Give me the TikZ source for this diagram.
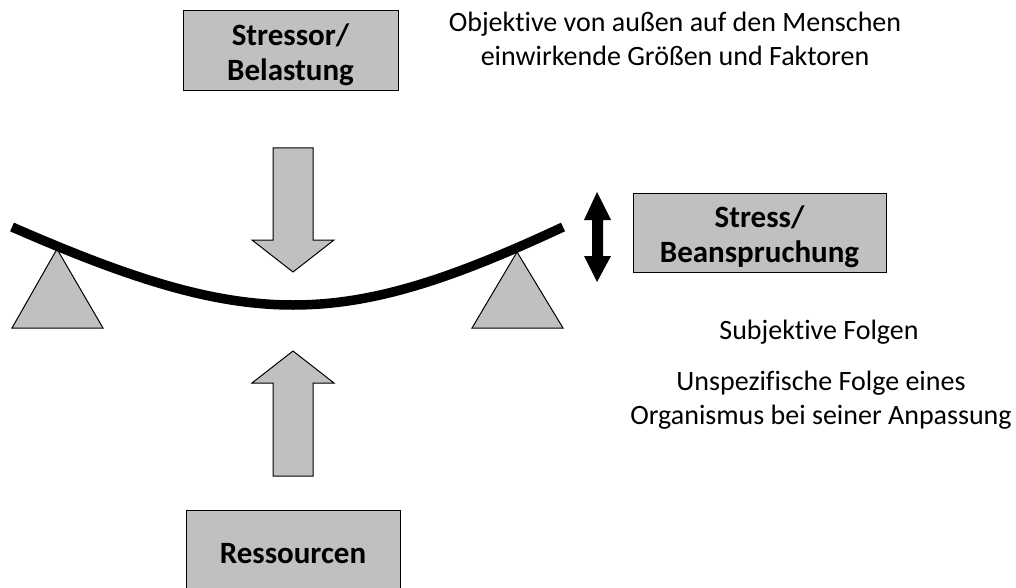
\documentclass[tikz,border=0pt]{standalone}
\usepackage{fontspec}
\setmainfont[Ligatures={NoCommon}]{Carlito}
\definecolor{boxgray}{RGB}{192,192,192}
\begin{document}
\begin{tikzpicture}[x=1pt,y=-1pt,
  graybox/.style={draw=black, line width=1pt, fill=boxgray, inner sep=0pt},
  boxtext/.style={align=center, inner sep=0pt, font=\fontsize{31}{35}\selectfont\bfseries},
  txt/.style={align=center, inner sep=0pt, font=\fontsize{28}{34}\selectfont},
  blockarrow/.style={draw=black, line width=1pt, fill=boxgray, line join=miter},
  support/.style={draw=black, line width=1pt, fill=boxgray},
  beam/.style={draw=black, line width=9.5pt},
  dblarrow/.style={fill=black}]
\useasboundingbox (0,0) rectangle (1016,588);

% boxes
\node[graybox, minimum width=215pt, minimum height=80pt] (stressor) at (290.5,51) {};
\node[boxtext] (stressorlbl) at ([yshift=-4pt]stressor.center) {Stressor/\\Belastung};
\node[graybox, minimum width=253pt, minimum height=79pt] (stress) at (759.5,232.5) {};
\node[boxtext] (stresslbl) at ([yshift=-4pt]stress.center) {Stress/\\Beanspruchung};
\node[graybox, minimum width=214pt, minimum height=86pt] (ress) at (293,553) {};
\node[boxtext] (resslbl) at ([yshift=-1pt]ress.center) {Ressourcen};

% texts
\node[txt] (obj) at (675,39) {Objektive von außen auf den Menschen\\einwirkende Größen und Faktoren};
\node[txt] (subj) at (819,332) {Subjektive Folgen};
\node[txt] (unsp) at (821,400) {Unspezifische Folge eines\\Organismus bei seiner Anpassung};

% block arrows
\draw[blockarrow] (273,148) -- (313,148) -- (313,240) -- (334,240) -- (293,272) -- (252,240) -- (273,240) -- cycle;
\draw[blockarrow] (273,476) -- (313,476) -- (313,383) -- (334,383) -- (293,351) -- (252,383) -- (273,383) -- cycle;

% supports
\draw[support] (57,249) -- (103,328) -- (12,328) -- cycle;
\draw[support] (517,252) -- (563,328) -- (472,328) -- cycle;

% beam
\draw[beam] (12,227) .. controls (250,331) and (340,331) .. (563,227);

% double arrow
\fill[dblarrow] (597,192) -- (611,220) -- (603,220) -- (603,256) -- (611,256) -- (597,282) -- (584,256) -- (592,256) -- (592,220) -- (584,220) -- cycle;
\end{tikzpicture}
\end{document}
